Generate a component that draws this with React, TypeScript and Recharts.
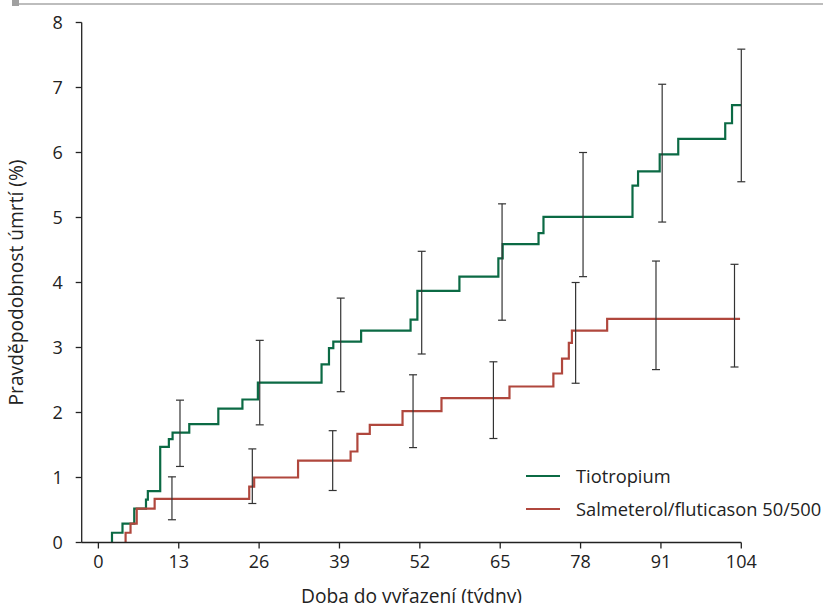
import React from 'react';
import {
  ComposedChart,
  Line,
  Scatter,
  ErrorBar,
  XAxis,
  YAxis,
} from 'recharts';

// ---- Data ----
const xTicks = [0, 13, 26, 39, 52, 65, 78, 91, 104];
const yTicks = [0, 1, 2, 3, 4, 5, 6, 7, 8];

const seriesNames = ['Tiotropium', 'Salmeterol/fluticason 50/500'];
const seriesColors = ['#0b6a44', '#b0473d'];

// Kaplan–Meier style step curves (week of step, new cumulative probability %)
const tiotropiumWeeks = [2.2, 2.2, 3.9, 5.8, 7.7, 8.0, 10.0, 11.4, 12.0, 14.7, 19.4, 23.3, 25.8, 36.1, 37.3, 38.0, 42.5, 50.5, 51.6, 58.4, 64.7, 65.4, 71.2, 72.0, 86.4, 87.3, 90.8, 93.8, 101.4, 102.5, 104];
const tiotropiumProb = [0, 0.15, 0.29, 0.52, 0.66, 0.79, 1.47, 1.59, 1.69, 1.82, 2.06, 2.2, 2.46, 2.74, 2.99, 3.09, 3.26, 3.43, 3.87, 4.09, 4.37, 4.59, 4.76, 5.01, 5.49, 5.71, 5.97, 6.21, 6.45, 6.73, 6.73];

const salmWeeks = [4.4, 4.4, 5.2, 6.2, 9.1, 24.4, 25.2, 32.3, 40.8, 41.9, 43.9, 49.2, 55.5, 66.5, 73.6, 75.0, 76.1, 76.6, 82.3, 103.8];
const salmProb = [0, 0.15, 0.29, 0.52, 0.67, 0.86, 1.0, 1.26, 1.4, 1.67, 1.81, 2.02, 2.22, 2.4, 2.6, 2.83, 3.07, 3.26, 3.44, 3.44];

// Confidence intervals
const tiotropiumCiWeeks = [13.2, 26.1, 39.2, 52.3, 65.3, 78.4, 91.2, 104];
const tiotropiumCiLow = [1.17, 1.81, 2.32, 2.9, 3.42, 4.09, 4.93, 5.55];
const tiotropiumCiHigh = [2.19, 3.11, 3.76, 4.48, 5.21, 6.0, 7.05, 7.59];

const salmCiWeeks = [11.9, 24.9, 37.9, 50.9, 63.9, 77.2, 90.2, 102.9];
const salmCiLow = [0.35, 0.6, 0.8, 1.46, 1.6, 2.45, 2.66, 2.7];
const salmCiHigh = [1.01, 1.44, 1.72, 2.58, 2.78, 4.0, 4.33, 4.28];

// ---- Build tables ----
const buildSteps = (w: number[], p: number[]) => w.map((x, i) => ({ w: x, v: p[i] }));
const buildCi = (w: number[], lo: number[], hi: number[]) =>
  w.map((x, i) => {
    const mid = (lo[i] + hi[i]) / 2;
    return { w: x, v: mid, err: [mid - lo[i], hi[i] - mid] };
  });

const tioData = buildSteps(tiotropiumWeeks, tiotropiumProb);
const salmData = buildSteps(salmWeeks, salmProb);
const tioCi = buildCi(tiotropiumCiWeeks, tiotropiumCiLow, tiotropiumCiHigh);
const salmCi = buildCi(salmCiWeeks, salmCiLow, salmCiHigh);

const FONT = '"Open Sans", sans-serif';
const TEXT = '#222';
const AXIS = '#222';
const FS = 18;
const TITLE_FS = 19.2;

function ChartLegend() {
  return (
    <div
      style={{
        position: 'absolute',
        left: 526,
        top: 459,
        fontFamily: FONT,
        fontSize: 18.3,
        color: TEXT,
      }}
    >
      {seriesNames.map((name, i) => (
        <div key={name} style={{ display: 'flex', alignItems: 'center', height: 33 }}>
          <svg width={34} height={4} style={{ marginRight: 16 }}>
            <line x1={0} y1={2} x2={34} y2={2} stroke={seriesColors[i]} strokeWidth={2} />
          </svg>
          <span style={{ whiteSpace: 'nowrap' }}>{name}</span>
        </div>
      ))}
    </div>
  );
}

export default function App() {
  return (
    <div style={{ position: 'absolute', left: 0, top: 0, width: 823, height: 603, background: '#fff', overflow: 'hidden' }}>
      <div style={{ position: 'absolute', left: 12, top: 0, width: 7, height: 6, background: '#a0a0a0' }} />
      <div style={{ position: 'absolute', left: 19, top: 3, width: 804, height: 2, background: '#bdbdbd' }} />
      <ComposedChart
        width={823}
        height={603}
        margin={{ top: 22.5, right: 81.7, bottom: 0, left: 0 }}
        style={{ fontFamily: FONT }}
      >
        <XAxis
          dataKey="w"
          type="number"
          domain={[-2.7, 104]}
          allowDataOverflow
          ticks={xTicks}
          interval={0}
          height={60.5}
          tickSize={6}
          tickMargin={7}
          stroke={AXIS}
          strokeWidth={1.3}
          tick={{ fill: TEXT, fontSize: FS }}
          label={{ value: 'Doba do vyřazení (týdny)', position: 'insideBottom', offset: 0, fill: TEXT, fontSize: TITLE_FS }}
        />
        <YAxis
          type="number"
          domain={[0, 8]}
          ticks={yTicks}
          interval={0}
          width={81.7}
          tickSize={6}
          tickMargin={13}
          stroke={AXIS}
          strokeWidth={1.3}
          tick={{ fill: TEXT, fontSize: FS }}
          label={{
            value: 'Pravděpodobnost úmrtí (%)',
            angle: -90,
            position: 'insideLeft',
            offset: 16,
            fill: TEXT,
            fontSize: TITLE_FS,
            style: { textAnchor: 'middle' },
          }}
        />
        <Line
          data={tioData}
          dataKey="v"
          type="stepAfter"
          stroke={seriesColors[0]}
          strokeWidth={2.2}
          dot={false}
          activeDot={false}
          isAnimationActive={false}
          name={seriesNames[0]}
        />
        <Line
          data={salmData}
          dataKey="v"
          type="stepAfter"
          stroke={seriesColors[1]}
          strokeWidth={2.2}
          dot={false}
          activeDot={false}
          isAnimationActive={false}
          name={seriesNames[1]}
        />
        <Scatter data={tioCi} dataKey="v" shape={() => <g />} isAnimationActive={false} legendType="none">
          <ErrorBar dataKey="err" direction="y" width={4} stroke="#333" strokeWidth={1.2} isAnimationActive={false} />
        </Scatter>
        <Scatter data={salmCi} dataKey="v" shape={() => <g />} isAnimationActive={false} legendType="none">
          <ErrorBar dataKey="err" direction="y" width={4} stroke="#333" strokeWidth={1.2} isAnimationActive={false} />
        </Scatter>
      </ComposedChart>
      <ChartLegend />
    </div>
  );
}
